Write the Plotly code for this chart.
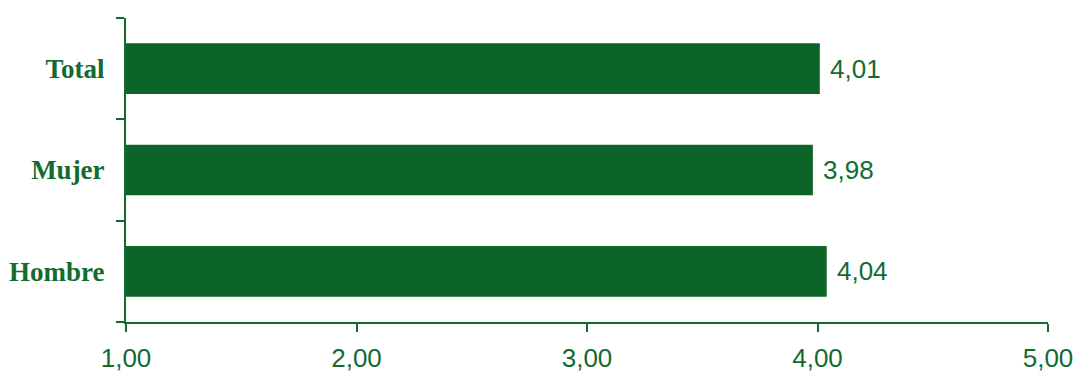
import plotly.graph_objects as go

categories = ["Hombre", "Mujer", "Total"]
values = [4.04, 3.98, 4.01]
x_ticks = [1, 2, 3, 4, 5]

GREEN = "#0d6429"
TEXT = "#136b31"

fig = go.Figure(go.Bar(
    y=categories,
    x=values,
    base=0,
    orientation="h",
    marker=dict(color=GREEN, line=dict(width=0)),
    texttemplate=" %{x:.2f}",
    textposition="outside",
    textfont=dict(family="Liberation Sans, Arial", size=26, color=TEXT),
    cliponaxis=False,
))

fig.update_layout(
    width=1078,
    height=372,
    plot_bgcolor="white",
    paper_bgcolor="white",
    separators=",.",
    bargap=0.5,
    showlegend=False,
    margin=dict(l=126, r=30, t=18, b=50, autoexpand=False),
)
fig.update_xaxes(
    range=[1, 5],
    tickvals=x_ticks,
    tickformat=".2f",
    showgrid=False,
    zeroline=False,
    showline=True,
    linecolor=TEXT,
    linewidth=2,
    ticks="outside",
    ticklen=8,
    tickwidth=2,
    tickcolor=TEXT,
    ticklabelstandoff=4,
    automargin=False,
    tickfont=dict(family="Liberation Sans, Arial", size=26, color=TEXT),
)
fig.update_yaxes(
    categoryorder="array",
    categoryarray=categories,
    showgrid=False,
    showline=True,
    linecolor=TEXT,
    linewidth=2,
    ticks="outside",
    tickson="boundaries",
    ticklen=8,
    tickwidth=2,
    tickcolor=TEXT,
    ticklabelstandoff=14,
    automargin=False,
    tickfont=dict(family="Liberation Serif, Times New Roman", size=27, color=TEXT, weight="bold"),
)

# drop the default 8px body margin so the figure fills the window
fig.write_html(
    "out.html",
    config={"displayModeBar": False},
    post_script="document.body.style.margin='0';document.body.style.overflow='hidden';",
)
